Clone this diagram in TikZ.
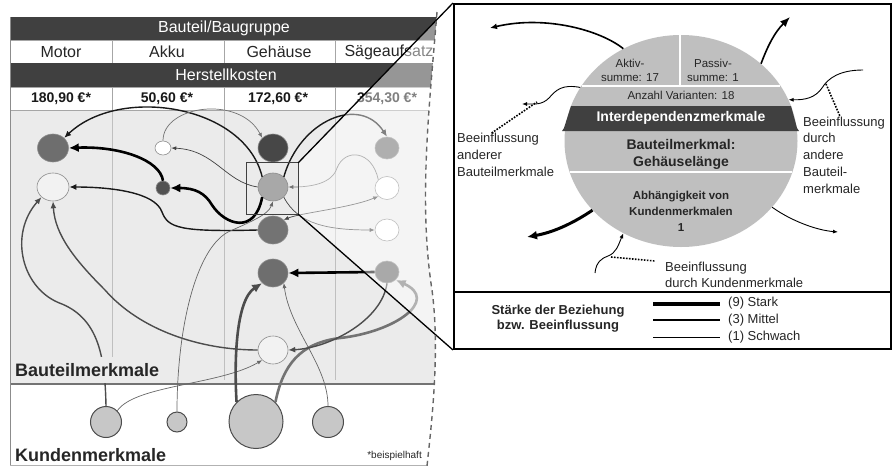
\documentclass[tikz,border=0pt]{standalone}
\usepackage{fontspec}
\setmainfont{Liberation Sans}
\usetikzlibrary{arrows.meta,shapes.geometric}
\newcommand{\fsz}[2]{\fontsize{#1}{#2}\selectfont}
\tikzset{
	merkmal/.style={ellipse, draw=black!45, line width=0.6pt, inner sep=0pt},
	kunde/.style={circle, draw=black!70, fill=black!22, line width=1pt, inner sep=0pt},
	stark/.style={line width=2.6pt, -{Latex[length=10pt,width=9pt]}},
	mittel/.style={line width=1.4pt, -{Latex[length=7pt,width=6pt]}},
	schwach/.style={line width=0.7pt, -{Latex[length=5pt,width=4pt]}},
	punktiert/.style={line width=1.6pt, dash pattern=on 1.6pt off 1.4pt}
}

\begin{document}
\begin{tikzpicture}[x=1pt, y=-1pt]
			%%%%% START %%%%%
			\useasboundingbox (0,0) rectangle (892,466);
			
			\node[draw, line width=2pt, fill=white, minimum width=437pt, minimum height=345pt, anchor=north west, inner sep=0pt] (panel) at (453,3) {};
			\draw[line width=2pt] (453,292) -- (890,292);
			
			\node[ellipse, fill=black!25, minimum width=233pt, minimum height=212pt, inner sep=0pt] (detail) at (681,141) {};
			\fill[color=black!75] (571,106) -- (791,106) -- (797,128) -- (799,131) -- (562,131) -- (564,128) -- cycle;
			\draw[white, line width=1.5pt] (582,86) -- (780,86);
			\draw[white, line width=1.5pt] (680,35) -- (680,86);
			\draw[white, line width=1.5pt] (570,172) -- (792,172);
			\node[font=\fsz{11.5}{14}, align=center, text=black!85] (aktiv) at (630,70) {Aktiv-\\summe: 17};
			\node[font=\fsz{11.5}{14}, align=center, text=black!85] (passiv) at (713,70) {Passiv-\\summe: 1};
			\node[font=\fsz{11.5}{14}, text=black!85] (varianten) at (681,95) {Anzahl Varianten: 18};
			\node[font=\bfseries\fsz{14}{17}, text=white] (interdep) at (681,118) {Interdependenzmerkmale};
			\node[font=\bfseries\fsz{14}{17}, align=center, text=black!85] (gehlaenge) at (681,154.5) {Bauteilmerkmal:\\Gehäuselänge};
			\node[font=\bfseries\fsz{11.5}{16}, align=center, text=black!85] (abhaengig) at (681,211) {Abhängigkeit von\\Kundenmerkmalen\\1};
			
			\node[font=\fsz{13}{17}, align=left, anchor=west, inner sep=0pt, text=black!85] (beeinflA) at (457,155) {Beeinflussung\\anderer\\Bauteilmerkmale};
			\node[font=\fsz{13}{16.8}, align=left, anchor=west, inner sep=0pt, text=black!85] (beeinflB) at (803,155) {Beeinflussung\\durch\\andere\\Bauteil-\\merkmale};
			\node[font=\fsz{13}{16}, align=left, anchor=west, inner sep=0pt, text=black!85] (beeinflC) at (665,275) {Beeinflussung\\durch Kundenmerkmale};
			
			\coordinate (linksOben) at (490,28);
			\coordinate (rechtsOben) at (790,17);
			\coordinate (linksMitte) at (522,104);
			\coordinate (mitteL) at (537,102);
			\coordinate (rechtsStart) at (863,70);
			\coordinate (mitteR) at (826,84);
			\coordinate (linksUnten) at (527,237);
			\coordinate (rechtsUnten) at (838,232);
			\coordinate (untenStart) at (595,273);
			\coordinate (mitteU) at (611,257);
			
			\draw[mittel, line width=1.6pt] (detail.122) .. controls (600,30) and (545,15) .. (linksOben);
			\draw[mittel, line width=1.6pt, -{Latex[length=10pt,width=8pt]}] (detail.44) .. controls (768,45) and (775,32) .. (rechtsOben);
			\draw[schwach, line width=0.9pt] (detail.152) .. controls (562,84) and (556,90) .. (549,98) .. controls (542,105) and (535,104) .. (linksMitte);
			\draw[punktiert] ([xshift=-14pt]beeinflA.north) -- (mitteL);
			\draw[schwach, line width=0.9pt] (rechtsStart) .. controls (840,70) and (828,78) .. (822,88) .. controls (815,98) and (805,100) .. (detail.21);
			\draw[punktiert] (mitteR) -- ([xshift=-4pt]beeinflB.north);
			\draw[stark, line width=3pt] (detail.218) .. controls (575,222) and (555,232) .. (linksUnten);
			\draw[schwach, line width=0.9pt] (detail.324) .. controls (790,220) and (815,230) .. (rechtsUnten);
			\draw[schwach, line width=0.9pt] (untenStart) .. controls (596,262) and (602,258) .. (608,256) .. controls (616,253) and (618,246) .. (detail.238);
			\draw[punktiert] (mitteU) -- ([shift={(-10pt,1pt)}]beeinflC.north west);
			
			\node[font=\bfseries\fsz{13}{15.5}, align=center, text=black!85] (staerke) at (558,318.5) {Stärke der Beziehung\\bzw. Beeinflussung};
			\node[font=\fsz{13}{15}, anchor=west, inner sep=0pt, text=black!85] (legStark) at (728,303) {(9) Stark};
			\node[font=\fsz{13}{15}, anchor=west, inner sep=0pt, text=black!85] (legMittel) at (728,320) {(3) Mittel};
			\node[font=\fsz{13}{15}, anchor=west, inner sep=0pt, text=black!85] (legSchwach) at (728,337) {(1) Schwach};
			\draw[line width=4pt] (653,304) -- (720,304);
			\draw[line width=2.3pt] (653,320) -- (720,320);
			\draw[line width=1pt] (653,337) -- (720,337);
			
			\node[minimum width=51pt, minimum height=51pt, inner sep=0pt] (lupe) at (272.5,188.5) {};
			
			\begin{scope}
			\clip (0,12) -- (437,12) .. controls (430,100) and (418,200) .. (432,290) .. controls (440,350) and (432,420) .. (427,466) -- (0,466) -- cycle;
			\fill[color=black!8] (10,110) rectangle (445,384);
			\draw[fill=black!75, draw=black!75] (10,17) rectangle (445,40);
			\draw[fill=white, draw=black!35] (10,40) rectangle (445,63);
			\draw[fill=black!75, draw=black!75] (10,63) rectangle (445,87);
			\draw[fill=white, draw=black!35] (10,87) rectangle (445,110);
			\foreach \x in {112,224,335} {
				\draw[color=black!35] (\x,40) -- (\x,63);
				\draw[color=black!35] (\x,87) -- (\x,110);
				\draw[color=black!25] (\x,110) -- (\x,380);
			}
			\draw[line width=1.5pt, color=black!55] (10,384) -- (445,384);
			\draw[line width=1pt, color=black!45] (10,17) -- (10,466);
			\draw[line width=1pt, color=black!30] (10,465) -- (445,465);
			
			\node[font=\fsz{16}{19}, text=white] (kopf) at (224,28.5) {Bauteil/Baugruppe};
			\node[font=\fsz{16}{19}, text=black!85] (motor) at (61,52) {Motor};
			\node[font=\fsz{16}{19}, text=black!85] (akku) at (167,52) {Akku};
			\node[font=\fsz{16}{19}, text=black!85] (gehaeuse) at (279,52) {Gehäuse};
			\node[font=\fsz{16}{19}, text=black!85] (saege) at (389,52) {Sägeaufsatz};
			\node[font=\fsz{16}{19}, text=white] (kosten) at (226,75) {Herstellkosten};
			\node[font=\bfseries\fsz{14}{17}, text=black!90] (preisMotor) at (61,99) {180,90 €*};
			\node[font=\bfseries\fsz{14}{17}, text=black!90] (preisAkku) at (167,99) {50,60 €*};
			\node[font=\bfseries\fsz{14}{17}, text=black!90] (preisGeh) at (278,99) {172,60 €*};
			\node[font=\bfseries\fsz{14}{17}, text=black!90] (preisSaege) at (387,99) {354,30 €*};
			
			\node[merkmal, fill=black!57, minimum width=31pt, minimum height=28pt] (motor1) at (53,148) {};
			\node[merkmal, fill=black!5, minimum width=32pt, minimum height=28pt] (motor2) at (53,187) {};
			\node[merkmal, fill=white, minimum width=16pt, minimum height=14pt] (akku1) at (163,148) {};
			\node[merkmal, fill=black!68, minimum width=14pt, minimum height=14pt] (akku2) at (163,188) {};
			\node[merkmal, fill=black!72, minimum width=30pt, minimum height=28pt] (geh1) at (273,148) {};
			\node[merkmal, fill=black!34, minimum width=30pt, minimum height=28pt] (geh2) at (273,187) {};
			\node[merkmal, fill=black!55, minimum width=30pt, minimum height=28pt] (geh3) at (273,230) {};
			\node[merkmal, fill=black!57, minimum width=30pt, minimum height=28pt] (geh4) at (273,273) {};
			\node[merkmal, fill=black!5, minimum width=30pt, minimum height=28pt] (geh5) at (273,350) {};
			\node[merkmal, fill=black!57, minimum width=24pt, minimum height=22pt] (saege1) at (387,148) {};
			\node[merkmal, fill=white, minimum width=24pt, minimum height=23pt] (saege2) at (387,188) {};
			\node[merkmal, fill=white, minimum width=24pt, minimum height=22pt] (saege3) at (387,230) {};
			\node[merkmal, fill=black!61, minimum width=24pt, minimum height=22pt] (saege4) at (387,272) {};
			
			\node[kunde, minimum size=31pt] (kunde1) at (106,422) {};
			\node[kunde, minimum size=20pt] (kunde2) at (177,422) {};
			\node[kunde, minimum size=54pt] (kunde3) at (256,421.5) {};
			\node[kunde, minimum size=31pt] (kunde4) at (328,422) {};
			
			\draw[mittel, color=black!90] (geh2.north west) .. controls (245,105) and (120,85) .. (motor1.north east);
			\draw[schwach, color=black!75] (geh2.west) .. controls (225,182) and (215,150) .. (akku1.east);
			\draw[schwach, color=black!55] (akku1.north) .. controls (163,105) and (240,95) .. (geh1.north west);
			\draw[stark, color=black] (geh2.south west) .. controls (255,235) and (225,225) .. (212,205) .. controls (205,193) and (195,188) .. (akku2.east);
			\draw[stark, color=black] (akku2.north) .. controls (160,160) and (120,146) .. (motor1.east);
			\draw[mittel, color=black!90] (geh3.west) .. controls (180,232) and (168,228) .. (162,212) .. controls (155,192) and (110,187) .. (motor2.east);
			\draw[mittel, color=black!90] (geh2.north east) .. controls (300,120) and (360,95) .. (saege1.north);
			\draw[schwach, color=black!55] (saege2.north west) .. controls (372,150) and (345,148) .. (337,168) .. controls (332,184) and (310,187) .. (geh2.east);
			\draw[schwach, color=black!75, {Latex[length=5pt,width=4pt]}-{Latex[length=5pt,width=4pt]}] (geh3.north east) .. controls (300,213) and (350,208) .. (saege2.south west);
			\draw[schwach, color=black!75] (geh2.south east) .. controls (298,225) and (330,230) .. (saege3.west);
			\draw[mittel, color=black!70] (kunde1.north) .. controls (105,360) and (100,320) .. (62,304) .. controls (22,290) and (8,235) .. (motor2.south west);
			\draw[mittel, color=black!70] (geh5.west) .. controls (200,350) and (140,330) .. (105,290) .. controls (75,260) and (55,235) .. (motor2.south);
			\draw[schwach, color=black!60] (kunde1.north east) .. controls (135,385) and (220,385) .. (geh5.south west);
			\draw[schwach, color=black!60] (kunde2.north) .. controls (177,330) and (195,250) .. (228,232) .. controls (250,222) and (268,215) .. (geh2.south);
			\draw[stark, color=black!70] (kunde3.north west) .. controls (234,360) and (236,300) .. (geh4.south west);
			\draw[stark, color=black!55] (kunde3.north east) .. controls (283,365) and (300,343) .. (340,338) .. controls (395,332) and (440,300) .. (saege4.south east);
			\draw[schwach, color=black!60] (kunde4.north) .. controls (328,365) and (290,330) .. (geh4.south east);
			\draw[stark, color=black] (saege4.west) -- (geh4.east);
			\draw[mittel, color=black!70] (saege4.south) .. controls (382,320) and (330,348) .. (geh5.east);
			
			\node[font=\bfseries\fsz{18}{21}, anchor=west, fill=black!8, inner xsep=1pt, inner ysep=6pt, text=black!85] (bauteilmm) at (14,370) {Bauteilmerkmale};
			\node[font=\bfseries\fsz{18}{21}, anchor=west, inner sep=1pt, text=black!85] (kundenmm) at (14,455) {Kundenmerkmale};
			\node[font=\fsz{10}{12}, anchor=east, inner sep=1pt, text=black!85] (beispiel) at (423,456) {*beispielhaft};
			
			\fill[white, opacity=0.45] (lupe.north east) -- (panel.north west) -- (panel.south west) -- (lupe.south east) -- cycle;
			\end{scope}
			
			\draw[line width=1.3pt, color=black!75] (lupe.south west) rectangle (lupe.north east);
			\draw[line width=1.3pt] (lupe.north east) -- (panel.north west);
			\draw[line width=1.3pt] (lupe.south east) -- (panel.south west);
			\draw[line width=1.4pt, color=black!60, dash pattern=on 5pt off 4pt] (437,12) .. controls (430,100) and (418,200) .. (432,290) .. controls (440,350) and (432,420) .. (427,466);
			
			%%%%% END %%%%%
\end{tikzpicture}
\end{document}
